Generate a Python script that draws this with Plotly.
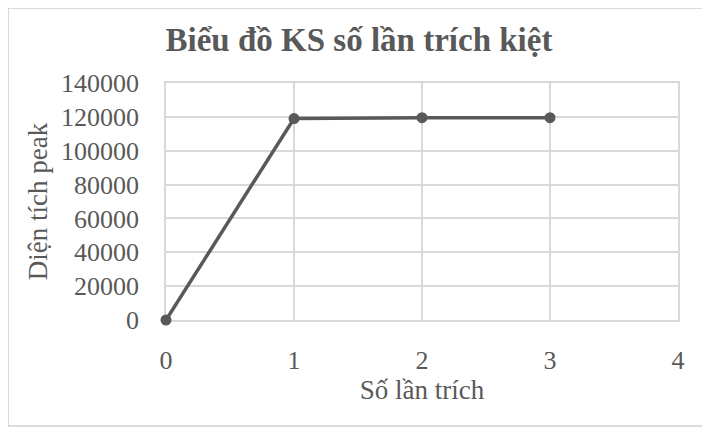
import plotly.graph_objects as go

# values
so_lan = [0, 1, 2, 3]
dien_tich = [0, 119000, 119500, 119500]
x_ticks = [0, 1, 2, 3, 4]
y_ticks = [0, 20000, 40000, 60000, 80000, 100000, 120000, 140000]

font_family = "Liberation Serif, Times New Roman, serif"
text_color = "#595959"
grid_color = "#d9d9d9"

# page body has an 8px margin, so the figure is 8px smaller and margins shifted
W, H = 702, 421
L, R, T, B = 158, 32, 75, 109
pw, ph = W - L - R, H - T - B

fig = go.Figure()
fig.add_trace(go.Scatter(
    x=so_lan, y=dien_tich, mode="lines+markers",
    line=dict(color="#595959", width=3.5),
    marker=dict(color="#595959", size=11),
    cliponaxis=False,
    showlegend=False,
))

fig.update_layout(
    width=W, height=H,
    margin=dict(l=L, r=R, t=T, b=B),
    paper_bgcolor="white", plot_bgcolor="white",
    font=dict(family=font_family, color=text_color, size=26),
    title=dict(
        text="<b>Biểu đồ KS số lần trích kiệt</b>",
        x=0.5, xanchor="center", y=1 - 31 / H, yanchor="middle",
        font=dict(size=33, color=text_color, family=font_family),
    ),
    # light frame round the whole chart
    shapes=[dict(
        type="rect", xref="paper", yref="paper", layer="below",
        x0=-L / pw, x1=(697 - L) / pw, y0=-(B - 3) / ph, y1=1 + T / ph,
        line=dict(color="#d0d0d0", width=1.5),
    )],
)

fig.update_xaxes(
    range=[0, 4], tickvals=x_ticks, showgrid=True, gridcolor=grid_color, gridwidth=1.5,
    zeroline=False, showline=True, linecolor=grid_color, linewidth=1.5, mirror=True,
    layer="below traces",
    ticks="outside", ticklen=16, tickcolor="rgba(0,0,0,0)",
    title=dict(text="Số lần trích", font=dict(size=27), standoff=4),
)
fig.update_yaxes(
    range=[0, 140000], tickvals=y_ticks, ticktext=[str(v) for v in y_ticks],
    showgrid=True, gridcolor=grid_color, gridwidth=1.5,
    zeroline=False, showline=True, linecolor=grid_color, linewidth=1.5, mirror=True,
    layer="below traces",
    ticks="outside", ticklen=20, tickcolor="rgba(0,0,0,0)",
    title=dict(text="Diện tích peak", font=dict(size=27), standoff=6),
)

fig.write_html("out.html")
